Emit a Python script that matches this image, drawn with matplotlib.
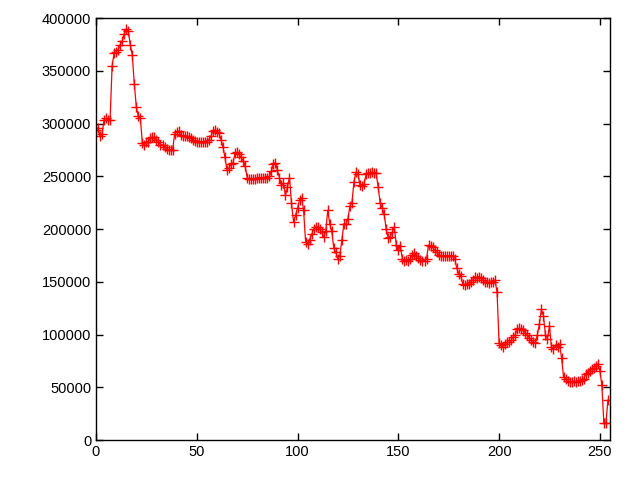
import matplotlib
matplotlib.use('Agg')
import matplotlib.pyplot as plt

# values, one per x index (0..254)
vals_k = [
    294, 296, 288, 290, 304, 305, 304, 304, 355, 367,
    368, 370, 375, 378, 385, 390, 388, 375, 365, 338,
    316, 307, 305, 282, 280, 283, 283, 286, 287, 287,
    285, 283, 280, 280, 278, 276, 275, 275, 275, 290,
    292, 293, 289, 288, 288, 288, 287, 286, 285, 284,
    283, 283, 283, 283, 283, 283, 285, 288, 293, 294,
    292, 291, 285, 278, 268, 256, 258, 262, 263, 272,
    273, 271, 268, 265, 260, 249, 248, 248, 248, 248,
    249, 249, 249, 249, 249, 249, 250, 255, 262, 263,
    256, 249, 242, 244, 232, 240, 249, 225, 207, 213,
    220, 228, 230, 218, 188, 186, 190, 195, 200, 202,
    202, 200, 197, 193, 198, 218, 205, 198, 182, 178,
    172, 175, 190, 205, 205, 210, 222, 225, 245, 254,
    252, 242, 241, 243, 252, 253, 253, 254, 253, 253,
    240, 225, 220, 214, 200, 192, 193, 197, 202, 185,
    180, 184, 172, 170, 171, 170, 172, 176, 177, 175,
    173, 171, 170, 170, 172, 185, 184, 183, 180, 178,
    176, 175, 175, 175, 175, 175, 175, 175, 172, 163,
    158, 156, 148, 147, 148, 148, 150, 152, 155, 154,
    155, 154, 152, 150, 150, 149, 150, 150, 152, 140,
    92, 90, 88, 91, 93, 93, 95, 98, 100, 105,
    106, 105, 104, 102, 100, 97, 95, 93, 92, 100,
    110, 124, 118, 100, 96, 108, 88, 86, 90, 88,
    91, 78, 60, 58, 56, 55, 55, 56, 55, 56,
    56, 57, 58, 63, 64, 66, 67, 68, 70, 72,
    66, 52, 16, 16, 38,
]
values = [v * 1000 for v in vals_k]
xs = list(range(len(values)))

plt.rcParams['font.family'] = ['Liberation Sans', 'DejaVu Sans']
fig = plt.figure(figsize=(6.4, 4.8), dpi=100)
ax = fig.add_axes([0.15, 0.083, 0.803, 0.879])

ax.plot(xs, values, color='red', linewidth=0.9, marker='+', markersize=7,
        markeredgewidth=1)

ax.set_xlim(0, 255)
ax.set_ylim(0, 400000)
ax.set_xticks(range(0, 251, 50))
ax.set_yticks(range(0, 400001, 50000))
ax.tick_params(direction='in', top=True, right=True, labelsize=10.5,
               length=5, width=1)
for s in ax.spines.values():
    s.set_linewidth(1)

fig.savefig('out.png', dpi=100)
